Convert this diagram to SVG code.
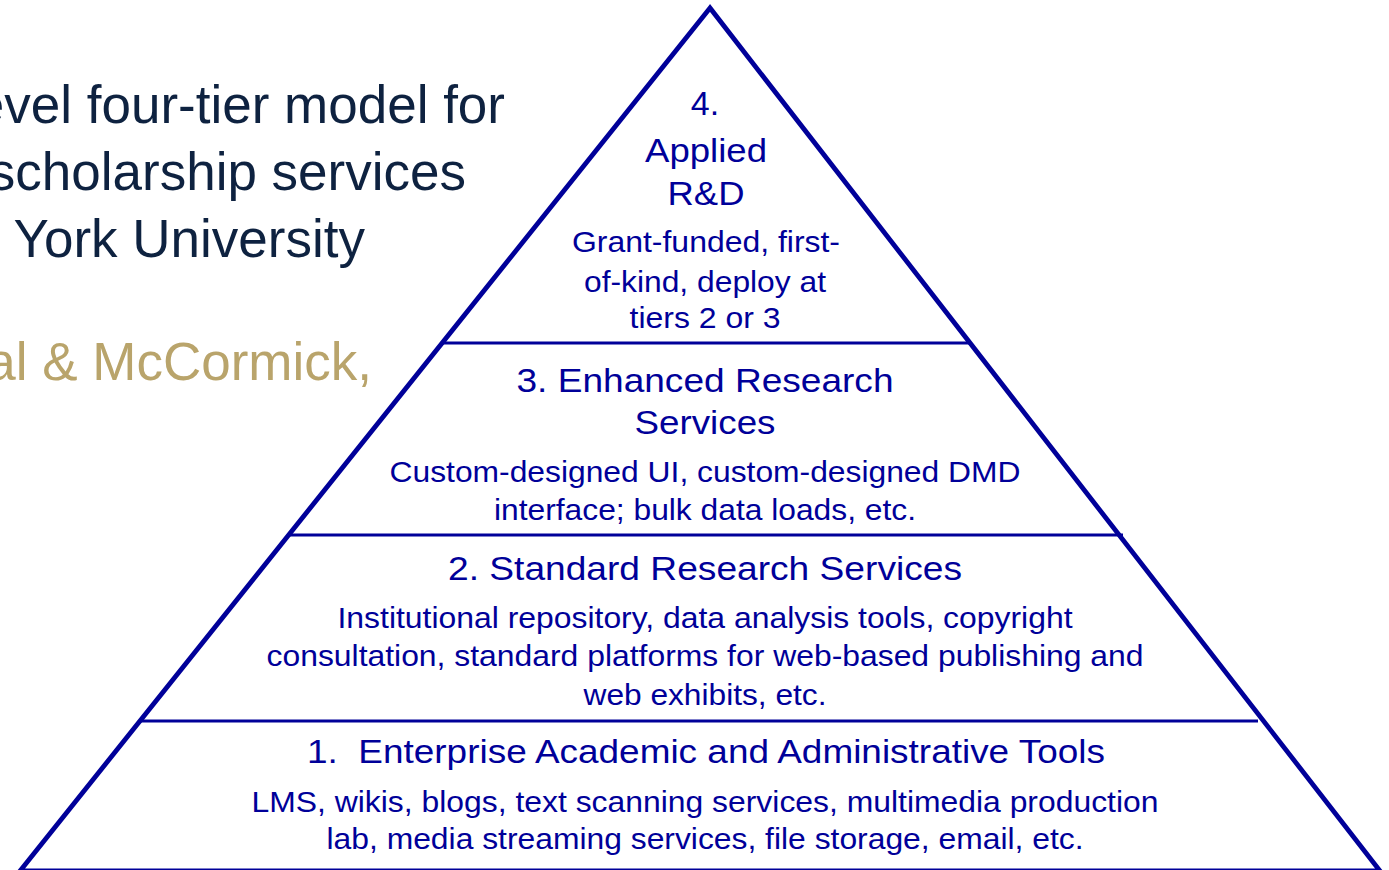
<svg xmlns="http://www.w3.org/2000/svg" width="1389" height="870" viewBox="0 0 1389 870">
  <style>
    .title { font-family: "Liberation Sans", Arial, sans-serif; font-size: 53px; fill: #0e2240; text-anchor: end; }
    .author { font-family: "Liberation Sans", Arial, sans-serif; font-size: 53px; fill: #b9a46b; text-anchor: end; }
    .head { font-family: "Liberation Sans", Arial, sans-serif; font-size: 34px; fill: #000099; text-anchor: middle; white-space: pre; }
    .desc { font-family: "Liberation Sans", Arial, sans-serif; font-size: 29px; fill: #000099; text-anchor: middle; }
    .edge { fill: none; stroke: #000099; stroke-width: 4.8; stroke-linejoin: miter; }
    .divider { stroke: #000099; stroke-width: 3; }
  </style>
  <rect width="1389" height="870" fill="#ffffff"/>

  <!-- heading block on the left -->
  <g id="heading">
    <text class="title" x="505" y="123">evel four-tier model for</text>
    <text class="title" x="466" y="190">scholarship services</text>
    <text class="title" x="365" y="257">York University</text>
    <text class="author" x="372" y="380">al &amp; McCormick,</text>
  </g>

  <!-- pyramid outline and tier dividers -->
  <g id="connectors">
    <polygon class="edge" points="710,8 20,871 1380,871"/>
    <line class="divider" x1="441" y1="343" x2="970" y2="343"/>
    <line class="divider" x1="290" y1="535" x2="1123" y2="535"/>
    <line class="divider" x1="140" y1="721" x2="1258" y2="721"/>
  </g>

  <g id="tier4">
    <text class="head" x="705" y="115">4.</text>
    <text class="head" x="706" y="162" textLength="122" lengthAdjust="spacingAndGlyphs">Applied</text>
    <text class="head" x="706" y="205" textLength="77" lengthAdjust="spacingAndGlyphs">R&amp;D</text>
    <text class="desc" x="706" y="252" textLength="268" lengthAdjust="spacingAndGlyphs">Grant-funded, first-</text>
    <text class="desc" x="705" y="292" textLength="242" lengthAdjust="spacingAndGlyphs">of-kind, deploy at</text>
    <text class="desc" x="705" y="328" textLength="151" lengthAdjust="spacingAndGlyphs">tiers 2 or 3</text>
  </g>

  <g id="tier3">
    <text class="head" x="705" y="392" textLength="377" lengthAdjust="spacingAndGlyphs">3. Enhanced Research</text>
    <text class="head" x="705" y="434" textLength="141" lengthAdjust="spacingAndGlyphs">Services</text>
    <text class="desc" x="705" y="482" textLength="631" lengthAdjust="spacingAndGlyphs">Custom-designed UI, custom-designed DMD</text>
    <text class="desc" x="705" y="520" textLength="422" lengthAdjust="spacingAndGlyphs">interface; bulk data loads, etc.</text>
  </g>

  <g id="tier2">
    <text class="head" x="705" y="580" textLength="514" lengthAdjust="spacingAndGlyphs">2. Standard Research Services</text>
    <text class="desc" x="705" y="628" textLength="735" lengthAdjust="spacingAndGlyphs">Institutional repository, data analysis tools, copyright</text>
    <text class="desc" x="705" y="666" textLength="877" lengthAdjust="spacingAndGlyphs">consultation, standard platforms for web-based publishing and</text>
    <text class="desc" x="705" y="705" textLength="243" lengthAdjust="spacingAndGlyphs">web exhibits, etc.</text>
  </g>

  <g id="tier1">
    <text class="head" x="706" y="763" textLength="798" lengthAdjust="spacingAndGlyphs" xml:space="preserve">1.  Enterprise Academic and Administrative Tools</text>
    <text class="desc" x="705" y="812" textLength="907" lengthAdjust="spacingAndGlyphs">LMS, wikis, blogs, text scanning services, multimedia production</text>
    <text class="desc" x="705" y="849" textLength="757" lengthAdjust="spacingAndGlyphs">lab, media streaming services, file storage, email, etc.</text>
  </g>
</svg>
